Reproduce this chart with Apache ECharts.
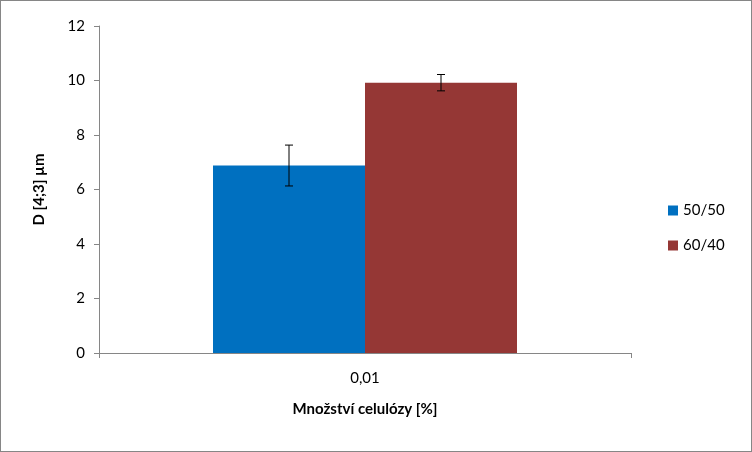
<!DOCTYPE html>
<html>
<head>
<meta charset="utf-8">
<script src="https://cdn.jsdelivr.net/npm/echarts@6/dist/echarts.min.js"></script>
<style>
  html, body { margin: 0; padding: 0; background: #fff; }
  #chart { width: 750px; height: 450px; border: 1px solid #868686; }
</style>
</head>
<body>
<div id="chart"></div>
<script>
const categories = ['0,01'];
const seriesNames = ['50/50', '60/40'];
const values = [[6.88], [9.92]];
const errors = [[0.75], [0.3]];
const colors = ['#0070C0', '#953735'];

const chart = echarts.init(document.getElementById('chart'));
const font = 'Lato, "Open Sans", sans-serif';

const barSeries = seriesNames.map((name, i) => ({
    name,
    type: 'bar',
    data: values[i],
    barWidth: 152,
    barGap: '0%',
    itemStyle: { color: colors[i] },
}));

const errorSeries = seriesNames.map((name, i) => ({
    type: 'custom',
    name,
    z: 5,
    data: values[i].map((v, j) => [j, v - errors[i][j], v + errors[i][j]]),
    renderItem(params, api) {
        const lo = api.coord([api.value(0), api.value(1)]);
        const hi = api.coord([api.value(0), api.value(2)]);
        const x = lo[0] + (i === 0 ? -76 : 76);
        const w = 4;
        const st = { stroke: '#000', lineWidth: 1 };
        return {
            type: 'group',
            children: [
                { type: 'line', shape: { x1: x, y1: lo[1], x2: x, y2: hi[1] }, style: st },
                { type: 'line', shape: { x1: x - w, y1: lo[1], x2: x + w, y2: lo[1] }, style: st },
                { type: 'line', shape: { x1: x - w, y1: hi[1], x2: x + w, y2: hi[1] }, style: st },
            ],
        };
    },
}));

chart.setOption({
    animation: false,
    textStyle: { fontFamily: font },
    grid: { left: 98, right: 120, top: 25, bottom: 98 },
    legend: {
        data: seriesNames,
        orient: 'vertical',
        left: 662,
        top: 197,
        itemWidth: 10,
        itemHeight: 10,
        itemGap: 20,
        icon: 'rect',
        textStyle: { fontSize: 15, color: '#000', fontFamily: font },
    },
    xAxis: {
        type: 'category',
        data: categories,
        name: 'Množství celulózy [%]',
        nameLocation: 'middle',
        nameGap: 49,
        nameTextStyle: { fontSize: 15, fontWeight: 'bold', color: '#000' },
        axisLine: { lineStyle: { color: '#868686' } },
        axisTick: { show: true, alignWithLabel: false, length: 5, lineStyle: { color: '#868686' } },
        axisLabel: { fontSize: 15, color: '#000', margin: 18 },
    },
    yAxis: {
        type: 'value',
        min: 0,
        max: 12,
        interval: 2,
        name: 'D [4;3] µm',
        nameLocation: 'middle',
        nameGap: 52,
        nameTextStyle: { fontSize: 15, fontWeight: 'bold', color: '#000' },
        axisLine: { show: true, lineStyle: { color: '#868686' } },
        axisTick: { show: true, length: 5, lineStyle: { color: '#868686' } },
        axisLabel: { fontSize: 15, color: '#000', margin: 14 },
        splitLine: { show: false },
    },
    series: [...barSeries, ...errorSeries],
});
</script>
</body>
</html>
